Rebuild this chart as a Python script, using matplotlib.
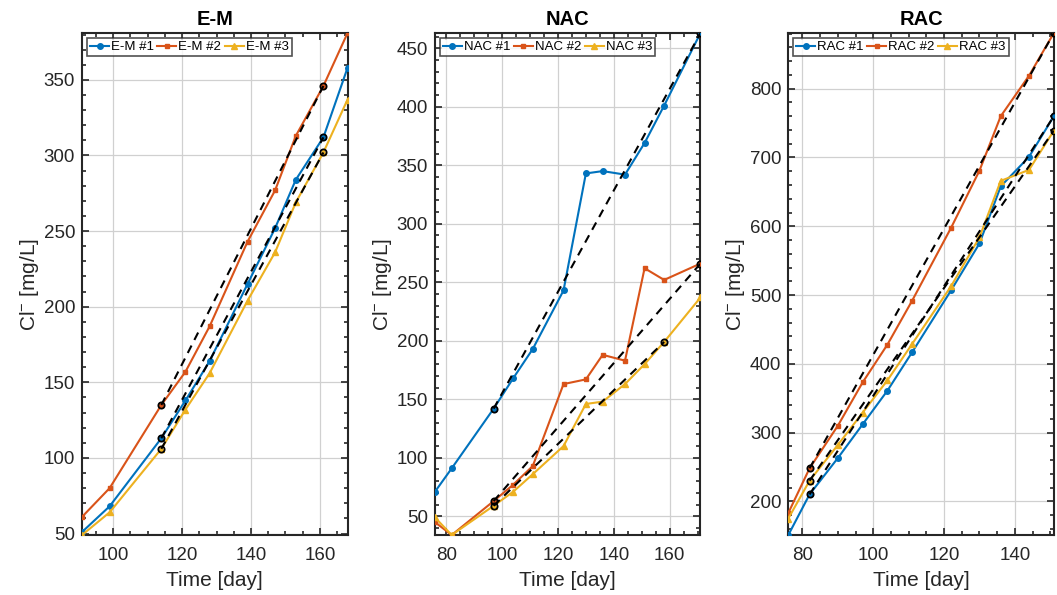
import matplotlib.pyplot as plt
from matplotlib.ticker import MultipleLocator

plt.rcParams['font.family'] = ['Liberation Sans', 'DejaVu Sans']
plt.rcParams['mathtext.fontset'] = 'custom'
plt.rcParams['mathtext.rm'] = 'Liberation Sans'
plt.rcParams['mathtext.it'] = 'Liberation Sans'

# E-M
em_days = [91, 99, 114, 121, 128, 139, 147, 153, 161, 168]
em_1 = [51, 68, 113, 138, 164, 215, 252, 284, 312, 358]
em_2 = [61, 80, 135, 157, 187, 243, 277, 313, 346, 381]
em_3 = [49, 64, 106, 132, 156, 204, 236, 269, 302, 337]
em_fit = (114, 161)

# NAC
nac_days = [76, 82, 97, 104, 111, 122, 130, 136, 144, 151, 158, 171]
nac_1 = [71, 91, 142, 168, 193, 243, 343, 345, 342, 369, 401, 463]
nac_2 = [45, 34, 63, 77, 93, 163, 167, 188, 183, 262, 252, 266]
nac_3 = [49, 34, 59, 71, 86, 110, 146, 148, 163, 180, 199, 237]
nac_fit = [(97, 171), (97, 171), (97, 158)]

# RAC
rac_days = [76, 82, 90, 97, 104, 111, 122, 130, 136, 144, 151]
rac_1 = [151, 210, 263, 312, 361, 417, 507, 575, 658, 701, 760]
rac_2 = [183, 248, 310, 373, 428, 492, 598, 681, 760, 819, 881]
rac_3 = [175, 230, 282, 329, 376, 429, 513, 584, 666, 682, 739]
rac_fit = (82, 151)

colors = ['#0072BD', '#D95319', '#EDB120']
markers = ['o', 's', '^']
msizes = [4, 3.5, 4.5]

panels = [
    ('E-M', em_days, [em_1, em_2, em_3], [em_fit] * 3, 20, 50, 5, 10),
    ('NAC', nac_days, [nac_1, nac_2, nac_3], nac_fit, 20, 50, 5, 10),
    ('RAC', rac_days, [rac_1, rac_2, rac_3], [rac_fit] * 3, 20, 100, 5, 20),
]
lefts = [0.0776, 0.4115, 0.7458]
width = 0.2512

fig = plt.figure(figsize=(10.57, 5.95), dpi=100)

for (name, days, series, fits, xmaj, ymaj, xmin_, ymin_), left in zip(panels, lefts):
    ax = fig.add_axes([left, 0.1008, width, 0.8437])
    for i, vals in enumerate(series):
        ax.plot(days, vals, color=colors[i], marker=markers[i], ms=msizes[i],
                lw=1.5, label=f'{name} #{i + 1}', zorder=3)
    for i, vals in enumerate(series):
        d0, d1 = fits[i]
        y0, y1 = vals[days.index(d0)], vals[days.index(d1)]
        ax.plot([d0, d1], [y0, y1], color='black', ls='--', lw=1.5,
                dashes=(4, 3), zorder=4)
        ax.plot([d0, d1], [y0, y1], ls='none', marker='o', ms=4.5,
                mfc='none', mec='black', mew=1.3, zorder=5)

    allv = [v for s in series for v in s]
    ax.set_xlim(min(days), max(days))
    ax.set_ylim(min(allv), max(allv))
    ax.xaxis.set_major_locator(MultipleLocator(xmaj))
    ax.yaxis.set_major_locator(MultipleLocator(ymaj))
    ax.xaxis.set_minor_locator(MultipleLocator(xmin_))
    ax.yaxis.set_minor_locator(MultipleLocator(ymin_))
    ax.grid(True, which='major', color='#d0d0d0', lw=0.9)
    ax.set_axisbelow(True)
    ax.tick_params(which='both', direction='in', top=True, right=True,
                   labelsize=13.5, colors='#262626', width=1.2)
    ax.tick_params(which='major', length=5)
    ax.tick_params(which='minor', length=3)
    ax.tick_params(axis='x', which='major', pad=8.5)
    ax.tick_params(axis='y', which='major', pad=5)
    for sp in ax.spines.values():
        sp.set_linewidth(1.5)
        sp.set_color('#262626')
    ax.set_title(name, fontsize=14.5, fontweight='bold', pad=6)
    ax.set_xlabel('Time [day]', fontsize=15, color='#262626', labelpad=5)
    ax.set_ylabel(r'Cl$^{-}$ [mg/L]', fontsize=15, color='#262626', labelpad=2)
    leg = ax.legend(loc='upper left', ncol=3, fontsize=9.5, frameon=True,
                    fancybox=False, edgecolor='#262626', handlelength=1.45,
                    handletextpad=0.15, columnspacing=0.25, borderpad=0.25,
                    borderaxespad=0.35, labelspacing=0.2)
    leg.get_frame().set_linewidth(1.2)

fig.savefig('out.png', dpi=100)
